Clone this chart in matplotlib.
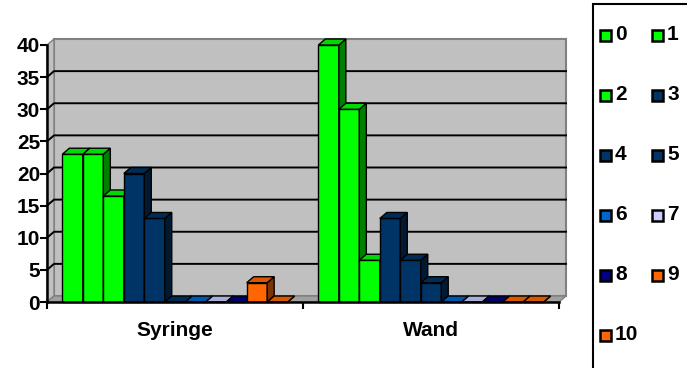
import matplotlib.pyplot as plt
from matplotlib.patches import Polygon, Rectangle
import matplotlib.colors as mcolors
import numpy as np

plt.rcParams['font.family'] = ['Liberation Sans', 'DejaVu Sans']
plt.rcParams['font.weight'] = 'bold'

categories = ['Syringe', 'Wand']
series = ['0', '1', '2', '3', '4', '5', '6', '7', '8', '9', '10']
syringe = [23, 23, 16.5, 20, 13, 0, 0, 0, 0, 3, 0]
wand = [40, 30, 6.5, 13, 6.5, 3, 0, 0, 0, 0, 0]
colors = ['#00FF00', '#00FF00', '#00FF00', '#003366', '#003366', '#003366',
          '#0066CC', '#CCCCFF', '#000080', '#FF6600', '#FF6600']
yticks = [0, 5, 10, 15, 20, 25, 30, 35, 40]

W, H = 687, 368
fs = 15
fig = plt.figure(figsize=(W / 100, H / 100), dpi=100)
ax = fig.add_axes([47 / W, (H - 302) / H, 512 / W, 257 / H])
ax.set_xlim(0, 2)
ax.set_ylim(0, 40)
ax.patch.set_visible(False)

# depth of the pseudo-3d look, pixels -> data units
dx = 7 * 2 / 512
dy = 6 * 40 / 257


def shade(c, f):
    r, g, b = mcolors.to_rgb(c)
    return (r * f, g * f, b * f)


# walls and floor
ax.add_patch(Polygon([(dx, dy), (2 + dx, dy), (2 + dx, 40 + dy), (dx, 40 + dy)],
                     closed=True, fc='#C0C0C0', ec='#808080', lw=1.5, zorder=0, clip_on=False))
ax.add_patch(Polygon([(0, 0), (dx, dy), (dx, 40 + dy), (0, 40)],
                     closed=True, fc='#C0C0C0', ec='#808080', lw=1, zorder=0, clip_on=False))
ax.add_patch(Polygon([(0, 0), (2, 0), (2 + dx, dy), (dx, dy)],
                     closed=True, fc='#A0A0A0', ec='#808080', lw=1, zorder=0, clip_on=False))
for v in yticks[1:-1]:
    ax.plot([0, dx, 2 + dx], [v, v + dy, v + dy], color='black', lw=1.4, zorder=1, clip_on=False)

# bars
n = len(series)
bw = 0.08
z = 2
for ci, vals in enumerate([syringe, wand]):
    x0 = ci + 0.5 - n * bw / 2
    for i, (v, c) in enumerate(zip(vals, colors)):
        xl = x0 + i * bw
        xr = xl + bw
        ax.add_patch(Rectangle((xl, 0), bw, v, fc=c, ec='black', lw=1, zorder=z, clip_on=False))
        ax.add_patch(Polygon([(xr, 0), (xr + dx, dy), (xr + dx, v + dy), (xr, v)],
                             closed=True, fc=shade(c, 0.5), ec='black', lw=1, zorder=z, clip_on=False))
        ax.add_patch(Polygon([(xl, v), (xr, v), (xr + dx, v + dy), (xl + dx, v + dy)],
                             closed=True, fc=shade(c, 0.85), ec='black', lw=1, zorder=z, clip_on=False))
        z += 1

# axes
for s in ['top', 'right']:
    ax.spines[s].set_visible(False)
ax.spines['left'].set_linewidth(1.8)
ax.spines['bottom'].set_linewidth(1.8)
ax.spines['left'].set_zorder(50)
ax.spines['bottom'].set_zorder(50)
ax.set_yticks(yticks)
ax.set_yticklabels([str(t) for t in yticks], fontsize=fs, fontweight='bold')
ax.tick_params(axis='y', direction='out', length=5, width=1.5, pad=0)
ax.set_xticks([0, 1, 2])
ax.set_xticklabels(['', '', ''])
ax.set_xticks([0.5, 1.5], minor=True)
ax.set_xticklabels(categories, minor=True, fontsize=fs, fontweight='bold')
ax.tick_params(axis='x', which='major', direction='out', length=5, width=1.5)
ax.tick_params(axis='x', which='minor', length=0, pad=14)

# legend box
fig.patches.append(Rectangle((593 / W, -0.05), 0.2, (H - 4) / H + 0.05, transform=fig.transFigure,
                             fc='white', ec='black', lw=1.5, figure=fig))
rows = [35, 95, 155, 215, 275, 335]
cols = [(605, 615), (657, 667)]
for i, (name, c) in enumerate(zip(series, colors)):
    r, k = divmod(i, 2)
    mx, tx = cols[k]
    yc = (H - rows[r]) / H
    fig.patches.append(Rectangle(((mx - 5.5) / W, yc - 5.5 / H), 11 / W, 11 / H,
                                 transform=fig.transFigure, fc=c, ec='black', lw=1.8, figure=fig))
    fig.text(tx / W, yc, name, fontsize=fs, fontweight='bold', va='center', ha='left')

fig.savefig('out.png', dpi=100)
